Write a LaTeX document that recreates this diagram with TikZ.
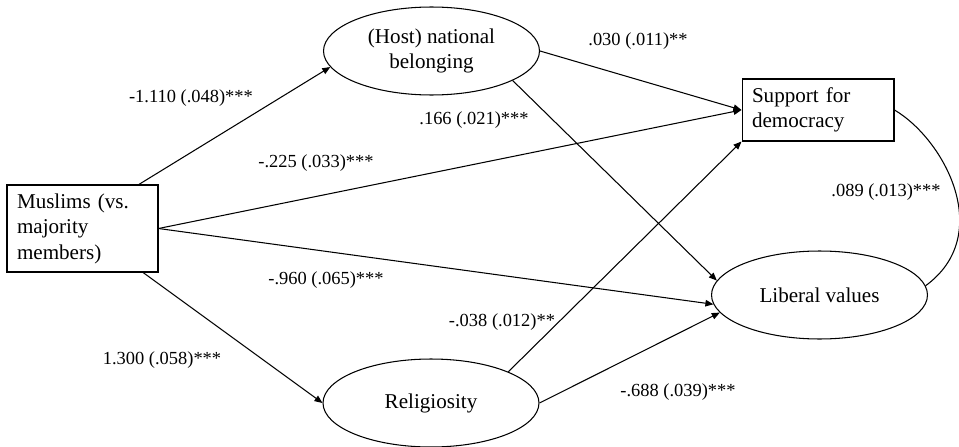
\documentclass[tikz,border=0pt]{standalone}
\usepackage{fontspec}
\setmainfont{Liberation Serif}
\usetikzlibrary{shapes.geometric,arrows.meta,positioning}

\begin{document}
\begin{tikzpicture}[x=0.02cm, y=-0.02cm,
    every node/.style={font=\fontsize{12}{14.5}\selectfont},
    latent/.style={draw, ellipse, minimum width=4.32cm, minimum height=1.76cm, inner sep=0pt, align=center},
    observed/.style={draw, rectangle, inner xsep=0.2cm, align=left},
    coef/.style={font=\fontsize{10.5}{12}\selectfont},
    path/.style={-{Triangle[length=1.6mm,width=1.3mm]}, line width=0.6pt}]
    \useasboundingbox (0,0) rectangle (959,446);

    % Observed variables
    \node[observed, line width=0.6pt, text width=2.62cm, minimum height=1.74cm] (musl) at (82.5,228.5) {Muslims (vs.\\ majority\\ members)};
    \node[observed, line width=0.6pt, text width=2.64cm, minimum height=1.24cm] (sup) at (818,110) {Support for\\ democracy};

    % Ellipses
    \node[latent, line width=0.6pt] (host) at (431.5,51) {(Host) national\\ belonging};
    \node[latent, line width=0.6pt] (rel) at (431,403) {Religiosity};
    \node[latent, line width=0.6pt] (lib) at (819.5,295) {Liberal values};

    % Paths
    \draw[path] (musl.38) -- (host.189);
    \draw[path] (musl.east) -- (sup.west);
    \draw[path] (musl.east) -- (lib.185);
    \draw[path] (musl.-36) -- (rel.west);
    \draw[path] (host.east) -- (sup.west);
    \draw[path] (host.-20) -- (lib.172);
    \draw[path] (rel.22) -- (sup.south west);
    \draw[path] (rel.east) -- (lib.190);

    % Covariance
    \draw[line width=0.6pt] (sup.east) .. controls (945,140) and (995,235) .. (lib.5);

    % Coefficients
    \node[coef] (c1) at (191,98) {-1.110 (.048)***};
    \node[coef] (c2) at (638,41) {.030 (.011)**};
    \node[coef] (c3) at (474,120) {.166 (.021)***};
    \node[coef] (c4) at (316,163) {-.225 (.033)***};
    \node[coef] (c5) at (886,192) {.089 (.013)***};
    \node[coef] (c6) at (326,280) {-.960 (.065)***};
    \node[coef] (c7) at (502,322) {-.038 (.012)**};
    \node[coef] (c8) at (162,360) {1.300 (.058)***};
    \node[coef] (c9) at (678,392) {-.688 (.039)***};
\end{tikzpicture}
\end{document}
